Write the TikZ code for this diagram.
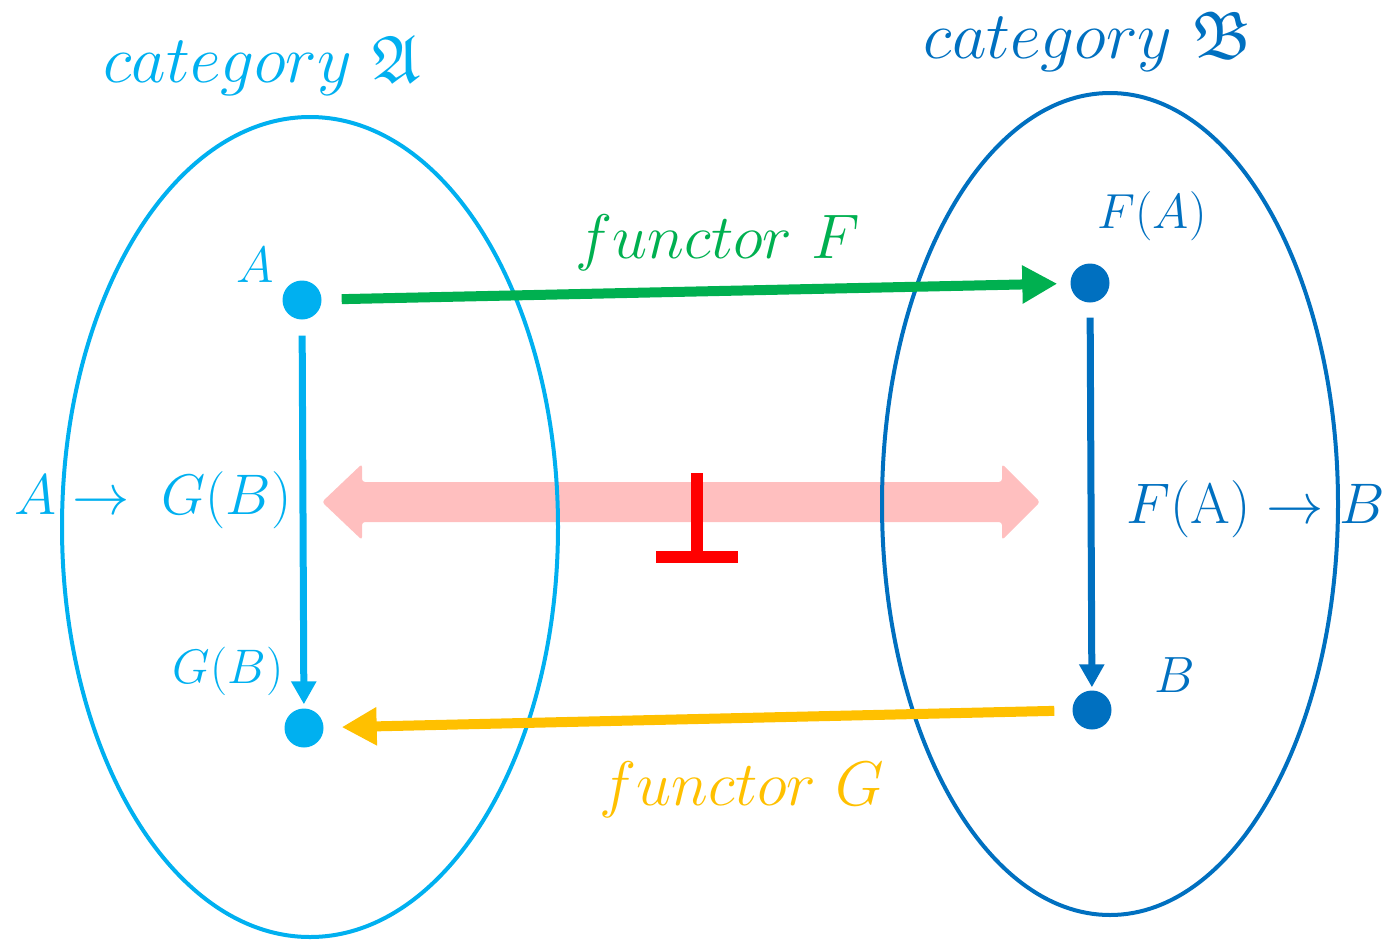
\documentclass[tikz,border=0pt]{standalone}
\usepackage{amssymb}
\usetikzlibrary{arrows.meta}
\definecolor{catA}{HTML}{00B0F0}
\definecolor{catB}{HTML}{0070C0}
\definecolor{funF}{HTML}{00B050}
\definecolor{funG}{HTML}{FFC000}
\definecolor{adjpink}{HTML}{FFBFBF}
\definecolor{adjred}{HTML}{FF0000}

\begin{document}
\begin{tikzpicture}[
  x=1pt,y=-1pt,
  obj/.style={circle,fill,minimum size=39pt,inner sep=0pt},
  lbl/.style={font=\Huge,inner sep=0pt,anchor=base},
  fun/.style={-{Triangle[length=35pt,width=36pt]},line width=10pt},
  mor/.style={-{Triangle[length=23pt,width=24pt]},line width=7pt},
  cat/.style={line width=4pt}
]
  \useasboundingbox (0,0) rectangle (1390,940);

  \coordinate (lt) at (322,502);
  \coordinate (rt) at (1040,502);
  \fill[adjpink,rounded corners=3pt] (lt) -- ++(40,-38) -- ++(0,18) -- ++(640,0)
    -- ++(0,-18) -- (rt) -- ++(-38,38) -- ++(0,-18) -- ++(-640,0) -- ++(0,18) -- cycle;
  \coordinate (adj) at (697,557);
  \draw[adjred,line width=12pt] (adj) -- ++(0,-84) (adj) ++(-41,0) -- ++(82,0);

  \draw[cat,catA] (310,527) ellipse [x radius=248pt,y radius=410pt];
  \draw[cat,catB] (1110,504) ellipse [x radius=228pt,y radius=411pt];

  \node[obj,catA] (a) at (302,300) {};
  \node[obj,catA] (gb) at (304,728) {};
  \node[obj,catB] (fa) at (1090,283) {};
  \node[obj,catB] (b) at (1092,710) {};

  \draw[fun,funF,shorten <=20pt,shorten >=13pt] (a) -- (fa);
  \draw[fun,funG,shorten <=18pt,shorten >=18pt] (b) -- (gb);
  \draw[mor,catA,shorten <=16pt,shorten >=4pt] (a) -- (gb);
  \draw[mor,catB,shorten <=15pt,shorten >=3pt] (fa) -- (b);

  \node[lbl,catA,scale=2.7] (nameA) at (262,82) {$category\ \mathfrak{A}$};
  \node[lbl,catB,scale=2.7] (nameB) at (1088,58) {$category\ \mathfrak{B}$};
  \node[lbl,funF,scale=2.53] (nameF) at (718,258) {$functor\ F$};
  \node[lbl,funG,scale=2.53] (nameG) at (742,805) {$functor\ G$};
  \node[lbl,catA,scale=2.05] (la) at (255,282) {$A$};
  \node[lbl,catA,scale=1.95] (lgb) at (228,683) {$G(B)$};
  \node[lbl,catB,scale=1.98] (lfa) at (1152,228) {$F(A)$};
  \node[lbl,catB,scale=2.05] (lb) at (1175,692) {$B$};
  \node[lbl,catA,scale=2.3] (homA) at (153,514) {$A\rightarrow\;G(B)$};
  \node[lbl,catB,scale=2.3] (homB) at (1256,523) {$F(\mathrm{A})\rightarrow B$};
\end{tikzpicture}
\end{document}
